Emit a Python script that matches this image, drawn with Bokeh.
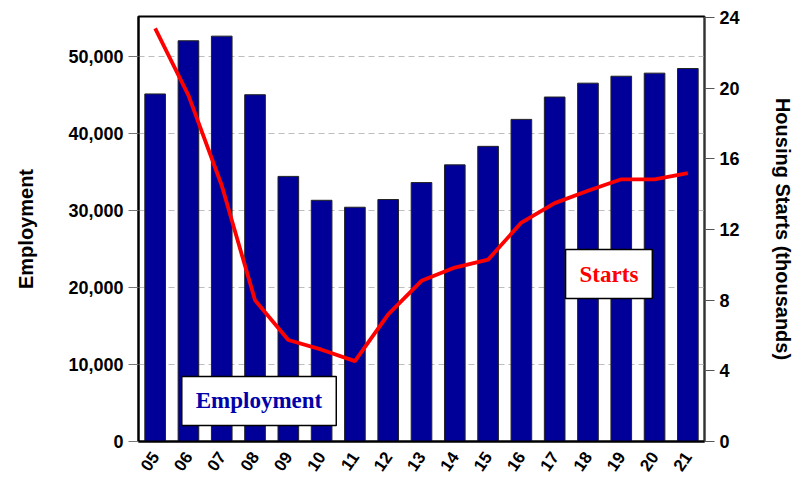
import math
from bokeh.plotting import figure
from bokeh.models import (FactorRange, Range1d, LinearAxis, FixedTicker,
                          NumeralTickFormatter, Label)
from bokeh.embed import file_html
from bokeh.resources import INLINE

years = ["05", "06", "07", "08", "09", "10", "11", "12", "13", "14",
         "15", "16", "17", "18", "19", "20", "21"]
employment = [45100, 52000, 52600, 45000, 34400, 31300, 30400, 31400, 33600,
              35900, 38300, 41800, 44700, 46500, 47400, 47800, 48400]
starts = [23.4, 19.6, 14.5, 8.0, 5.75, 5.2, 4.55, 7.2, 9.1, 9.85, 10.3,
          12.4, 13.5, 14.2, 14.85, 14.85, 15.2]
left_ticks = [0, 10000, 20000, 30000, 40000, 50000]
grid_ticks = [10000, 20000, 30000, 40000, 50000]
right_ticks = [0, 4, 8, 12, 16, 20, 24]

FONT = "Liberation Sans"
SERIF = "Liberation Serif"

p = figure(width=802, height=478,
           x_range=FactorRange(*years, range_padding=0),
           y_range=Range1d(0, 55150), output_backend="svg", toolbar_location=None,
           min_border_left=138, min_border_right=98, min_border_top=16,
           min_border_bottom=36)
p.extra_y_ranges = {"starts": Range1d(0, 24.07)}

p.vbar(x=years, top=employment, width=0.62, fill_color="#000099",
       line_color="#222222", line_width=1)
p.line(x=years, y=starts, y_range_name="starts", line_color="#ff0000",
       line_width=3.8)

p.outline_line_color = "black"
p.outline_line_width = 2
p.xgrid.grid_line_color = None
p.ygrid.ticker = FixedTicker(ticks=grid_ticks)
p.ygrid.grid_line_color = "#bdbdbd"
p.ygrid.grid_line_dash = "6 4"

# left axis
ya = p.yaxis[0]
ya.ticker = FixedTicker(ticks=left_ticks)
ya.formatter = NumeralTickFormatter(format="0,0")
ya.axis_label = "Employment"
ya.axis_label_text_font = FONT
ya.axis_label_text_font_style = "bold"
ya.axis_label_text_font_size = "20px"
ya.axis_label_text_color = "black"
ya.axis_label_standoff = 28
ya.major_label_text_font = FONT
ya.major_label_text_font_style = "bold"
ya.major_label_text_font_size = "18px"
ya.major_label_text_color = "black"
ya.major_label_standoff = 5
ya.major_tick_out = 10
ya.major_tick_in = 0
ya.major_tick_line_color = "#777777"
ya.minor_tick_line_color = None
ya.axis_line_color = "black"
ya.axis_line_width = 2

# right axis
ra = LinearAxis(y_range_name="starts", ticker=FixedTicker(ticks=right_ticks),
                axis_label="Housing Starts (thousands)")
ra.axis_label_text_font = FONT
ra.axis_label_text_font_style = "bold"
ra.axis_label_text_font_size = "20px"
ra.axis_label_text_color = "black"
ra.axis_label_standoff = 29
ra.major_label_text_font = FONT
ra.major_label_text_font_style = "bold"
ra.major_label_text_font_size = "18px"
ra.major_label_text_color = "black"
ra.major_label_standoff = 5
ra.major_tick_out = 10
ra.major_tick_in = 0
ra.major_tick_line_color = "#555555"
ra.minor_tick_line_color = None
ra.axis_line_color = "#333333"
ra.axis_line_width = 1.5
p.add_layout(ra, "right")

# x axis
xa = p.xaxis[0]
xa.major_label_orientation = math.radians(55)
xa.major_label_text_font = FONT
xa.major_label_text_font_style = "bold"
xa.major_label_text_font_size = "17px"
xa.major_label_text_color = "black"
xa.major_label_standoff = 6
xa.major_tick_line_color = None
xa.minor_tick_line_color = None
xa.axis_line_color = "black"
xa.axis_line_width = 2

emp_label = Label(x=3.62, y=5270, text="Employment", text_font=SERIF,
                  text_font_style="bold", text_font_size="23px",
                  text_color="#0000aa", text_align="center",
                  text_baseline="middle", background_fill_color="white",
                  border_line_color="black", border_line_width=1.5,
                  padding=(14, 12))
st_label = Label(x=14.13, y=21720, text="Starts", text_font=SERIF,
                 text_font_style="bold", text_font_size="23px",
                 text_color="#ff0000", text_align="center",
                 text_baseline="middle", background_fill_color="white",
                 border_line_color="black", border_line_width=1.5,
                 padding=(14, 12))
p.add_layout(emp_label)
p.add_layout(st_label)

open("out.html", "w").write(file_html(p, INLINE))
